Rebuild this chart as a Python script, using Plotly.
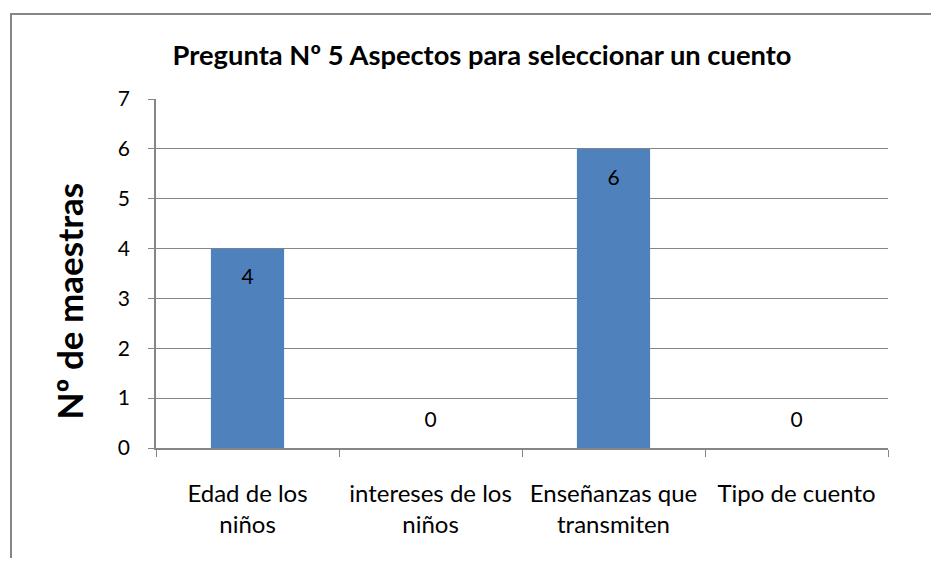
import plotly.graph_objects as go

categories = ["Edad de los<br>niños", "intereses de los<br>niños", "Enseñanzas que<br>transmiten", "Tipo de cuento"]
values = [4, 0, 6, 0]
title_text = "Pregunta Nº 5 Aspectos para seleccionar un cuento"
y_title = "Nº de maestras"
y_ticks = [0, 1, 2, 3, 4, 5, 6, 7]

# page has an 8px body margin, so the figure is sized to fit inside it
OFF = 8
W, H = 939 - 2 * OFF, 566 - 2 * OFF
L, T = 156 - OFF, 99 - OFF
pw, ph = 732, 349
R, B = W - L - pw, H - T - ph

def px_x(p):
    return (p - OFF - L) / pw

def px_y(p):
    return (T + ph - (p - OFF)) / ph

FONT = "Lato"
label_y = [v - 0.61 if v > 0 else 0.53 for v in values]

fig = go.Figure()
fig.add_trace(go.Bar(x=categories, y=values, marker=dict(color="#4f81bd", line=dict(width=0)),
                     width=0.4, hoverinfo="skip"))
fig.add_trace(go.Scatter(x=categories, y=label_y, mode="text", text=[str(v) for v in values],
                         textfont=dict(family=FONT, size=21, color="#000000"), hoverinfo="skip"))

fig.update_layout(
    width=W, height=H,
    margin=dict(l=L, r=R, t=T, b=B),
    paper_bgcolor="white", plot_bgcolor="white",
    showlegend=False,
    font=dict(family=FONT, size=21, color="#000000"),
    title=dict(text="<b>" + title_text + "</b>", x=(482 - OFF) / W, xref="container", xanchor="center",
               y=1 - (55 - OFF) / H, yref="container", yanchor="middle",
               font=dict(family=FONT, size=27.3, color="#000000")),
    xaxis=dict(showline=True, linecolor="#868686", linewidth=1.5,
               ticks="outside", tickson="boundaries", ticklen=7, tickcolor="#868686",
               showgrid=False, tickfont=dict(family=FONT, size=24), fixedrange=True,
               ticklabelstandoff=23),
    yaxis=dict(range=[0, 7], tickvals=y_ticks, showline=True, linecolor="#868686", linewidth=1.5,
               ticks="outside", ticklen=6, tickcolor="#868686",
               showgrid=True, gridcolor="#868686", gridwidth=1,
               zeroline=False, tickfont=dict(family=FONT, size=21), fixedrange=True,
               ticklabelstandoff=14),
    annotations=[dict(text="<b>" + y_title + "</b>", xref="paper", yref="paper",
                      x=px_x(68), y=px_y(301.5), xanchor="center", yanchor="middle",
                      textangle=-90, showarrow=False,
                      font=dict(family=FONT, size=35, color="#000000"))],
    shapes=[dict(type="rect", xref="paper", yref="paper",
                 x0=px_x(11), x1=px_x(980), y0=px_y(620), y1=px_y(14),
                 line=dict(color="#868686", width=2), layer="below")],
)

fig.write_html("out.html")
